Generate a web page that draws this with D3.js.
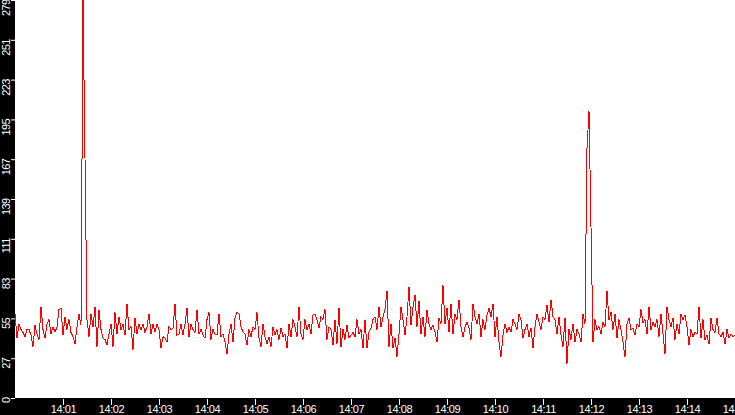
<!DOCTYPE html>
<html>
<head>
<meta charset="utf-8">
<script src="https://cdn.jsdelivr.net/npm/d3@7"></script>
<style>
  html, body { margin: 0; padding: 0; background: #000; }
  svg { display: block; }
</style>
</head>
<body>
<div id="chart"></div>
<script>
// readings, one every 2.5 s starting 14:00:00
var startTime = "14:00:00";
var stepSeconds = 2.5;

var seg1 = [59,42,52,48,46,43,48,48,44,36,51,45,41,64,48,42,52,55,45,50,46,50,62,63,44,57,48,55,46,43,38,50,59,51,279,168,55,43,59,50,64,36,62,48,42];
var seg2 = [41,37,45,52,36,60,45,57,48,52,44,66,48,50,34,56,45,52,48,52,46,50,59,45,52,46,52,48,35,43,42,39,50,48,49,66,44,45,52,44,52,63,43,52,48];
var seg3 = [46,62,45,48,44,42,55,60,41,48,45,44,59,43,45,39,31,45,52,39,56,60,59,50,46,45,37,48,43,50,48,60,42,36,52,43,38,43,36,50,44,48,41,49,43];
var seg4 = [45,35,52,43,55,50,43,64,45,41,55,48,52,45,58,59,55,49,57,55,62,41,50,48,37,55,38,63,36,48,41,51,42,44,46,43,55,45,48,35,55,35,46,49,55];
var seg5 = [57,48,64,50,57,62,75,36,52,35,42,29,45,64,55,44,57,78,51,64,72,50,68,45,57,43,62,52,48,51,46,39,56,52,79,52,63,46,66,45,59,55,69,50,43];
var seg6 = [50,53,49,41,66,57,52,59,43,55,48,58,63,57,66,43,57,39,29,44,52,46,50,46,55,52,48,59,55,42,48,52,43,49,35,50,59,53,48,57,55,65,53,69,57];
var seg7 = [55,45,57,44,36,56,24,48,41,52,39,48,45,39,59,52,175,201,120,39,55,48,50,45,53,50,75,55,60,48,59,42,55,48,39,29,52,56,48,49,44,52,50,62,53];
var seg8 = [55,45,64,48,53,50,55,43,59,45,31,64,55,50,56,41,52,45,59,55,58,50,37,48,43,46,45,64,42,55,41,44,38,56,48,46,56,45,43,46,38,48,42,45,43,44];

var xTickLabels = ["14:01","14:02","14:03","14:04","14:05","14:06","14:07","14:08","14:09","14:10","14:11","14:12","14:13","14:14","14:15"];
var yMax = 279;

var svgWidth = 735, svgHeight = 415;
var margins = { top: 0, right: 0, bottom: 17, left: 15 };
var height = svgHeight - margins.bottom;

function toDate(hms) {
    var p = hms.split(":").map(Number);
    return new Date(2020, 0, 1, p[0], p[1], p[2] || 0);
}

var values = [].concat(seg1, seg2, seg3, seg4, seg5, seg6, seg7, seg8);
var t0 = toDate(startTime);
var data = values.map(function(v, i) {
    return { t: new Date(t0.getTime() + i * stepSeconds * 1000), v: v };
});

var svg = d3.select("#chart")
    .append("svg")
    .attr("width", svgWidth)
    .attr("height", svgHeight)
    .style("font-family", "'Liberation Sans', Arial, sans-serif");

// black background, white plot area
svg.append("rect")
    .attr("width", svgWidth)
    .attr("height", svgHeight)
    .attr("fill", "#000");
svg.append("rect")
    .attr("x", margins.left)
    .attr("y", 0)
    .attr("width", svgWidth - margins.left)
    .attr("height", height)
    .attr("fill", "#fff");

var xScale = d3.scaleTime()
    .domain([toDate("14:00:00"), toDate("14:15:00")])
    .range([margins.left, svgWidth]);
var yScale = d3.scaleLinear()
    .domain([0, yMax])
    .range([height, 0]);

var line = d3.line()
    .x(d => xScale(d.t))
    .y(d => yScale(d.v));

// aliased line like the original plot
svg.append("path")
    .datum(data)
    .attr("fill", "none")
    .attr("stroke", "#ff0000")
    .attr("stroke-width", 1)
    .attr("shape-rendering", "crispEdges")
    .attr("d", line);

// x axis
var xAxis = d3.axisBottom(xScale)
    .tickValues(xTickLabels.map(toDate))
    .tickSize(6)
    .tickFormat((d, i) => xTickLabels[i]);

var xg = svg.append("g")
    .attr("transform", `translate(0,${height})`)
    .call(xAxis);
xg.select(".domain").remove();
xg.selectAll("line").attr("stroke", "#fff").attr("transform", "translate(0,1)");
xg.selectAll("text")
    .attr("fill", "#fff")
    .attr("y", 15)
    .attr("dy", 0)
    .style("font-size", "11px")
    .style("letter-spacing", "-0.4px");

// y axis, labels turned on their side
var yAxis = d3.axisLeft(yScale)
    .tickValues(d3.range(11).map(i => yMax * i / 10))
    .tickSize(4)
    .tickFormat(d => Math.floor(d + 1e-9));

var yg = svg.append("g")
    .attr("transform", `translate(${margins.left},0)`)
    .call(yAxis);
yg.select(".domain").remove();
yg.selectAll("line").attr("stroke", "#fff");
yg.selectAll("text")
    .attr("fill", "#fff")
    .attr("transform", "rotate(-90)")
    .attr("x", 1)
    .attr("y", -5)
    .attr("dy", 0)
    .attr("text-anchor", "end")
    .style("font-size", "11px")
    .style("letter-spacing", "-0.6px");
</script>
</body>
</html>
